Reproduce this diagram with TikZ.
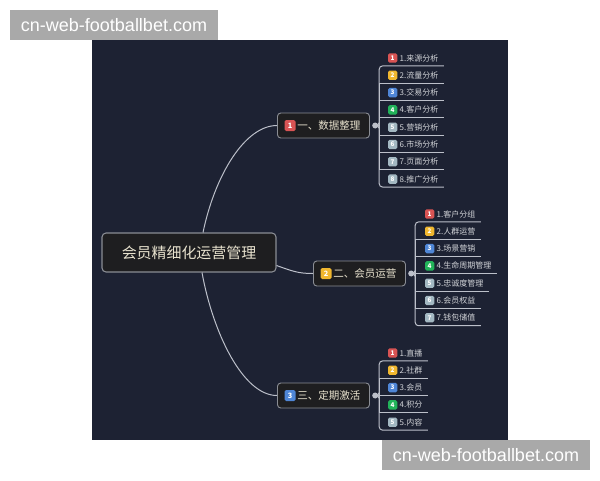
\documentclass[tikz,border=0pt]{standalone}
\usepackage{fontspec}
\setmainfont{Noto Sans CJK SC}
\newfontfamily\wmfont{Liberation Sans}
\usetikzlibrary{positioning}
\definecolor{panel}{RGB}{29,34,51}
\definecolor{boxfill}{RGB}{30,30,32}
\definecolor{rim}{RGB}{138,141,148}
\definecolor{wirecol}{RGB}{188,192,202}
\definecolor{cream}{RGB}{232,226,206}
\definecolor{leaftext}{RGB}{210,212,216}
\definecolor{wmgray}{RGB}{169,169,169}
\definecolor{b1}{RGB}{217,84,84}
\definecolor{b2}{RGB}{240,183,47}
\definecolor{b3}{RGB}{79,134,214}
\definecolor{b4}{RGB}{34,179,90}
\definecolor{b5}{RGB}{163,184,194}
\colorlet{b6}{b5}
\colorlet{b7}{b5}
\colorlet{b8}{b5}

\begin{document}
\begin{tikzpicture}[x=0.75pt,y=-0.75pt,
    root/.style={draw=rim,fill=boxfill,rounded corners=3pt,line width=0.8pt,text=cream,
        font=\fontsize{11.2}{13}\selectfont,minimum width=130.5pt,minimum height=29.25pt},
    topic/.style={draw=rim,fill=boxfill,rounded corners=2.5pt,line width=0.7pt,text=cream,
        font=\fontsize{7.9}{9}\selectfont,text width=55.5pt,align=right,inner xsep=6.75pt,
        minimum height=18.75pt,anchor=west},
    badge/.style={fill=#1,rounded corners=1.2pt,text=white,inner sep=0pt,
        font=\fontsize{5.5}{6}\bfseries\selectfont,minimum size=8.25pt},
    leafbadge/.style={badge=#1,minimum size=7pt,font=\fontsize{4.8}{5}\bfseries\selectfont},
    leaf/.style={text=leaftext,font=\fontsize{6}{7}\selectfont,anchor=west,
        inner xsep=4pt,inner ysep=0pt,minimum height=11.5pt},
    wire/.style={draw=wirecol,line width=0.75pt},
    elbow/.style={sharp corners},
    dot/.style={circle,fill=wirecol,inner sep=0pt,minimum size=4.5pt},
    watermark/.style={fill=wmgray,text=white,font=\wmfont\fontsize{13.5}{16}\selectfont,
        minimum width=156pt,minimum height=22.5pt,inner sep=0pt}]
\fill[white] (0,0) rectangle (600,480);
\useasboundingbox (0,0) rectangle (600,480);
\fill[panel] (92,40) rectangle (508,440);
\node[watermark] (wm1) at (114,25) {cn-web-footballbet.com};
\node[watermark] (wm2) at (486,455) {cn-web-footballbet.com};

% central topic and its three branches
\node[root] (root) at (189,252.5) {会员精细化运营管理};
\node[topic] (s1) at (277,125.5) {一、数据整理};
\node[topic] (s2) at (313,273.5) {二、会员运营};
\node[topic] (s3) at (277,395.5) {三、定期激活};
\node[badge=b1,right=5.5pt of s1.west] {1};
\node[badge=b2,right=5.5pt of s2.west] {2};
\node[badge=b3,right=5.5pt of s3.west] {3};
\draw[wire] ([xshift=10.5pt]root.north) .. controls (215,175) and (245,125.5) .. (s1.west);
\draw[wire] ([yshift=-9.75pt]root.east) .. controls (292,271) and (298,273.5) .. (s2.west);
\draw[wire] ([xshift=9.75pt]root.south) .. controls (213,333) and (243,395.5) .. (s3.west);
\node[dot,right=1.5pt of s1] (d1) {};
\node[dot,right=1.5pt of s2] (d2) {};
\node[dot,right=1.5pt of s3] (d3) {};

% leaves, only the outer ones turn with a round corner
\foreach \t [count=\i] in {来源分析,流量分析,交易分析,客户分析,营销分析,市场分析,页面分析,推广分析}{
    \node[leaf] (a\i) at (394,40.7+17.3*\i) {\i.\t};
    \node[leafbadge=b\i] at ([xshift=-1pt]a\i.west) {\i};
    \ifnum\i=1 \tikzset{elbow/.style={rounded corners=2.5pt}}\fi
    \ifnum\i=8 \tikzset{elbow/.style={rounded corners=2.5pt}}\fi
    \draw[wire,elbow] (d1.center) -- ++(4,0) |- (a\i.south east);
}
\foreach \t [count=\i] in {客户分组,人群运营,场景营销,生命周期管理,忠诚度管理,会员权益,钱包储值}{
    \node[leaf] (b\i) at (431,196.7+17.3*\i) {\i.\t};
    \node[leafbadge=b\i] at ([xshift=-1pt]b\i.west) {\i};
    \ifnum\i=1 \tikzset{elbow/.style={rounded corners=2.5pt}}\fi
    \ifnum\i=7 \tikzset{elbow/.style={rounded corners=2.5pt}}\fi
    \draw[wire,elbow] (d2.center) -- ++(4,0) |- (b\i.south east);
}
\foreach \t [count=\i] in {直播,社群,会员,积分,内容}{
    \node[leaf] (c\i) at (394,335.7+17.3*\i) {\i.\t};
    \node[leafbadge=b\i] at ([xshift=-1pt]c\i.west) {\i};
    \ifnum\i=1 \tikzset{elbow/.style={rounded corners=2.5pt}}\fi
    \ifnum\i=5 \tikzset{elbow/.style={rounded corners=2.5pt}}\fi
    \draw[wire,elbow] (d3.center) -- ++(4,0) |- (c\i.south east);
}
\end{tikzpicture}
\end{document}
